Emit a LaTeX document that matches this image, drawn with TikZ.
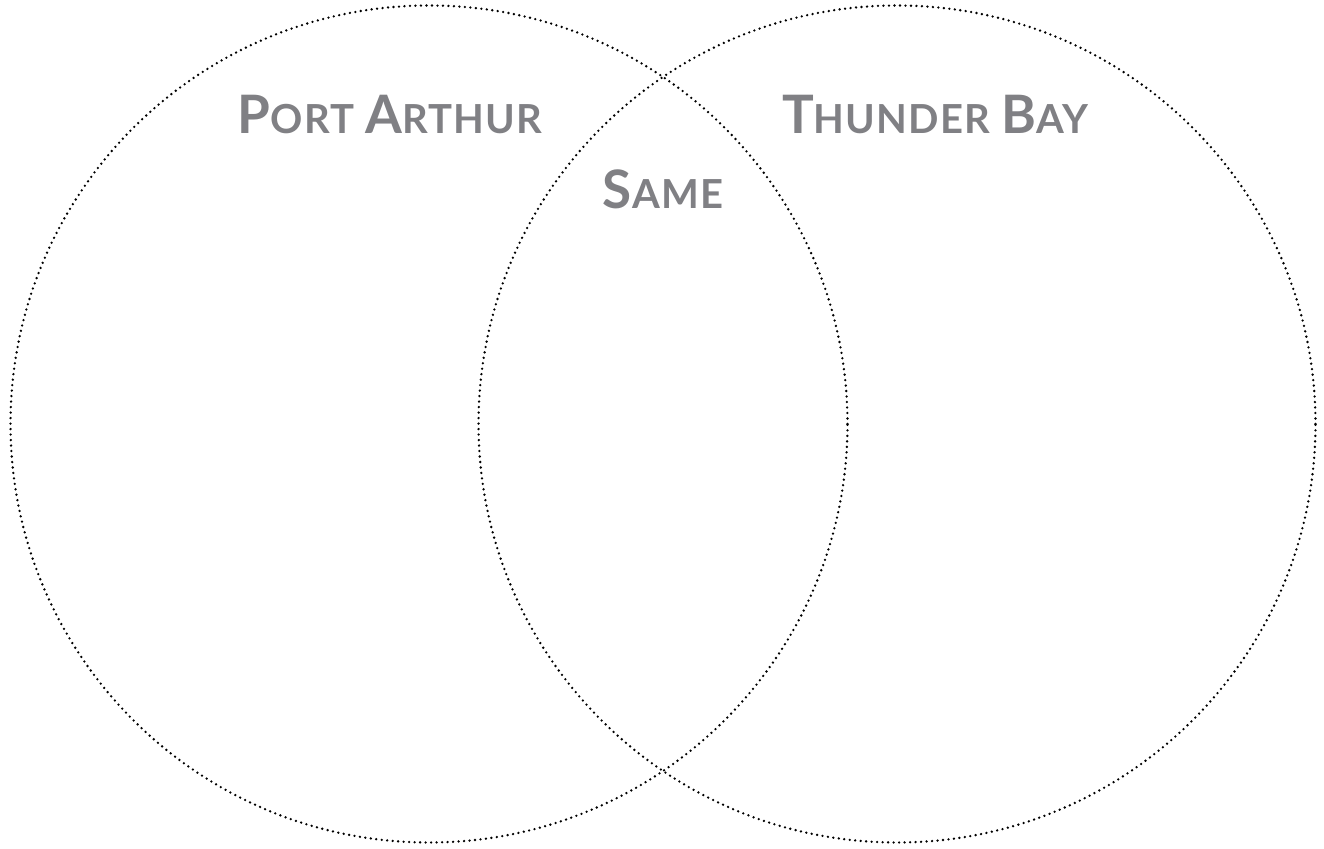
\documentclass[tikz,border=0pt]{standalone}
\usepackage{fontspec}
\setmainfont{Lato}
\definecolor{labelgray}{RGB}{128,128,132}
\newcommand{\bigc}[1]{{\fontsize{53}{60}\selectfont\addfontfeature{LetterSpace=3}#1}}
\newcommand{\smc}[1]{{\fontsize{40}{48}\selectfont\addfontfeature{LetterSpace=3}#1}}
\tikzset{
  ring/.style={circle, draw=black, line width=2.6pt, line cap=round, dash pattern=on 0pt off 5.5pt, minimum size=837pt, inner sep=0pt},
  lbl/.style={text=labelgray, font=\bfseries, anchor=base, inner sep=0pt}
}
\begin{document}
\begin{tikzpicture}[x=1pt,y=1pt]
\useasboundingbox (0,0) rectangle (1324,848);
\node[ring] (pa) at (429,424) {};
\node[ring] (tb) at (897,424) {};
\node[lbl] (l1) at (390,714) {\bigc{P}\smc{ORT }\bigc{A}\smc{RTHUR}};
\node[lbl] (l2) at (935,714) {\bigc{T}\smc{HUNDER }\bigc{B}\smc{AY}};
\node[lbl] (l3) at (663,639) {\bigc{S}\smc{AME}};
\end{tikzpicture}
\end{document}
